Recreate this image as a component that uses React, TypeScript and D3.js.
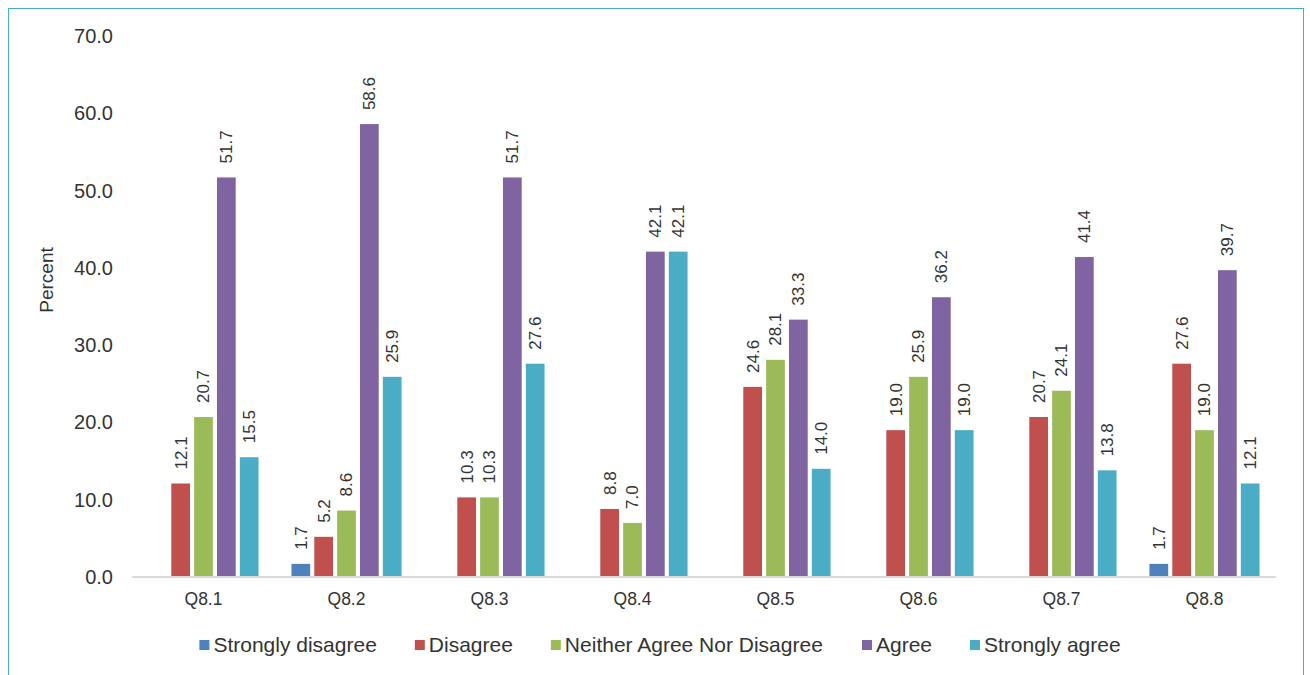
import React from "react";
import * as d3 from "d3";

// Survey items on the x axis
const categories = ["Q8.1", "Q8.2", "Q8.3", "Q8.4", "Q8.5", "Q8.6", "Q8.7", "Q8.8"];

// Response options (series) and their colours
const seriesNames = [
  "Strongly disagree",
  "Disagree",
  "Neither Agree Nor Disagree",
  "Agree",
  "Strongly agree",
];
const seriesColors = ["#4F81BD", "#C0504D", "#9BBB59", "#8064A2", "#4BACC6"];

// Percent per item for each response option (null = no responses)
const stronglyDisagree = [null, 1.7, null, null, null, null, null, 1.7];
const disagree = [12.1, 5.2, 10.3, 8.8, 24.6, 19.0, 20.7, 27.6];
const neither = [20.7, 8.6, 10.3, 7.0, 28.1, 25.9, 24.1, 19.0];
const agree = [51.7, 58.6, 51.7, 42.1, 33.3, 36.2, 41.4, 39.7];
const stronglyAgree = [15.5, 25.9, 27.6, 42.1, 14.0, 19.0, 13.8, 12.1];

const yTicks = [0, 10, 20, 30, 40, 50, 60, 70];

const seriesValues: (number | null)[][] = [stronglyDisagree, disagree, neither, agree, stronglyAgree];

const FONT = "'Liberation Sans', Arial, sans-serif";
const TEXT = "#333333";

function measure(text: string, size: number): number {
  const c = document.createElement("canvas");
  const ctx = c.getContext("2d");
  if (!ctx) return text.length * size * 0.5;
  ctx.font = `${size}px 'Liberation Sans', Arial, sans-serif`;
  return ctx.measureText(text).width;
}

export default function App() {
  const W = 1310;
  const H = 675;
  const plotLeft = 132;
  const plotRight = 1276;
  const plotTop = 36;
  const plotBottom = 577;

  const x0 = d3.scaleBand<string>().domain(categories).range([plotLeft, plotRight]).padding(0);
  const groupPad = x0.bandwidth() * 0.115;
  const x1 = d3
    .scaleBand<string>()
    .domain(seriesNames)
    .range([groupPad, x0.bandwidth() - groupPad])
    .paddingInner(0.18)
    .paddingOuter(0);
  const y = d3.scaleLinear().domain([0, 70]).range([plotBottom, plotTop]);
  const fmt = d3.format(".1f");

  // Legend layout, centred on the page
  const legendSize = 21;
  const markerSize = 10;
  const markerGap = 4;
  const itemGap = 38;
  const widths = seriesNames.map((s) => measure(s, legendSize));
  const itemWidths = widths.map((w) => markerSize + markerGap + w);
  const totalLegend = d3.sum(itemWidths) + itemGap * (seriesNames.length - 1);
  let cursor = 660 - totalLegend / 2;
  const legendItems = seriesNames.map((name, i) => {
    const item = { name, color: seriesColors[i], x: cursor };
    cursor += itemWidths[i] + itemGap;
    return item;
  });
  const legendY = 645;

  return (
    <svg
      width={W}
      height={H}
      style={{ position: "absolute", left: 0, top: 0, background: "#fff" }}
      fontFamily={FONT}
    >
      <rect x={8.5} y={8.5} width={1295} height={700} fill="#fff" stroke="#4aaccc" strokeWidth={1} />

      {/* y axis tick labels */}
      {yTicks.map((t) => (
        <text
          key={t}
          x={113}
          y={y(t)}
          dy="0.35em"
          textAnchor="end"
          fontSize={20}
          fill={TEXT}
        >
          {fmt(t)}
        </text>
      ))}
      <text
        transform={`translate(46,280) rotate(-90)`}
        textAnchor="middle"
        dy="0.35em"
        fontSize={19}
        fill={TEXT}
      >
        Percent
      </text>

      {/* bars */}
      {categories.map((cat, ci) => (
        <g key={cat} transform={`translate(${x0(cat)},0)`}>
          {seriesNames.map((s, si) => {
            const v = seriesValues[si][ci];
            if (v === null) return null;
            const bx = x1(s) as number;
            const bw = x1.bandwidth();
            return (
              <g key={s}>
                <rect x={bx} y={y(v)} width={bw} height={y(0) - y(v)} fill={seriesColors[si]} />
                <text
                  transform={`translate(${bx + bw / 2},${y(v) - 14}) rotate(-90)`}
                  dy="0.35em"
                  textAnchor="start"
                  fontSize={17}
                  fill={TEXT}
                >
                  {fmt(v)}
                </text>
              </g>
            );
          })}
          <text
            x={x0.bandwidth() / 2}
            y={605}
            textAnchor="middle"
            fontSize={17.5}
            fill={TEXT}
          >
            {cat}
          </text>
        </g>
      ))}

      {/* x axis line */}
      <line x1={plotLeft} x2={plotRight} y1={plotBottom} y2={plotBottom} stroke="#d9d9d9" strokeWidth={2} />

      {/* legend */}
      {legendItems.map((it) => (
        <g key={it.name} transform={`translate(${it.x},${legendY})`}>
          <rect x={0} y={-markerSize / 2} width={markerSize} height={markerSize} fill={it.color} />
          <text x={markerSize + markerGap} dy="0.35em" fontSize={legendSize} fill={TEXT}>
            {it.name}
          </text>
        </g>
      ))}
    </svg>
  );
}
